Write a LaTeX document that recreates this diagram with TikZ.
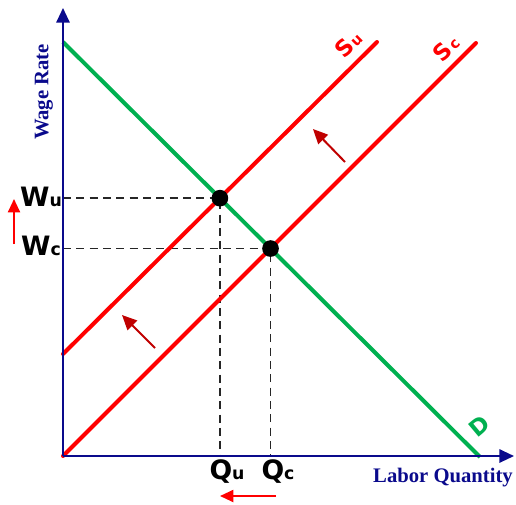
\documentclass[tikz,border=0pt]{standalone}
\usepackage{fontspec}
\newfontfamily\serifbold{Liberation Serif}[BoldFont={Liberation Serif Bold}]
\newfontfamily\heavysans{DejaVu Sans}
\usetikzlibrary{arrows.meta}
\definecolor{navyax}{HTML}{0A0A8C}
\definecolor{dgreen}{HTML}{00B050}
\definecolor{bred}{HTML}{FF0000}
\definecolor{dred}{HTML}{C00000}
\begin{document}
\begin{tikzpicture}[x=0.75pt,y=-0.75pt,
  axisline/.style={draw=navyax, line width=1.5pt, -{Triangle[length=11pt,width=10pt]}},
  curveline/.style={line width=3pt, line cap=round},
  dashline/.style={draw=black!85, line width=1.3pt, dash pattern=on 6pt off 4pt},
  dotnode/.style={circle, fill=black, inner sep=0pt, minimum size=12.5pt},
  shiftarrow/.style={draw=dred, line width=1.5pt, -{Triangle[length=11pt,width=10pt]}},
  redarrow/.style={draw=bred, line width=1.5pt, -{Triangle[length=10pt,width=9pt]}},
  axlabel/.style={text=navyax, font=\serifbold\bfseries\fontsize{15.5}{17}\selectfont},
  wqlabel/.style={font=\heavysans\bfseries\fontsize{20}{22}\selectfont, inner sep=0pt},
  slabel/.style={text=bred, font=\heavysans\bfseries\fontsize{17}{19}\selectfont, inner sep=0pt, rotate=45},
]
\useasboundingbox (0,0) rectangle (516,504);
% axes
\coordinate (O) at (63,456);
\coordinate (ytop) at (63,8);
\coordinate (xend) at (514,456);
% curves
\coordinate (D1) at (63,42);
\coordinate (D2) at (480,457);
\coordinate (Su1) at (63,354);
\coordinate (Su2) at (377,42);
\coordinate (Sc1) at (63,456);
\coordinate (Sc2) at (476,43);
\coordinate (Pu) at (intersection of D1--D2 and Su1--Su2);
\coordinate (Pc) at (intersection of D1--D2 and Sc1--Sc2);
% dashed guides
\draw[dashline] (Pu -| O) -- (Pu) -- (Pu |- O);
\draw[dashline] (Pc -| O) -- (Pc) -- (Pc |- O);
% supply and demand
\draw[curveline, draw=bred] (Su1) -- (Su2);
\draw[curveline, draw=bred] (Sc1) -- (Sc2);
\draw[curveline, draw=dgreen, line cap=butt] (D1) -- (D2);
\draw[axisline] (O) -- (ytop);
\draw[axisline] (O) -- (xend);
% equilibrium dots
\node[dotnode] (du) at (Pu) {};
\node[dotnode] (dc) at (Pc) {};
% shift arrows
\coordinate (a1s) at (345,162);
\coordinate (a1e) at (313,129);
\draw[shiftarrow] (a1s) -- (a1e);
\coordinate (a2s) at (155,348);
\coordinate (a2e) at (122,315);
\draw[shiftarrow] (a2s) -- (a2e);
\coordinate (a3s) at (14,244);
\coordinate (a3e) at (14,199);
\draw[redarrow] (a3s) -- (a3e);
\coordinate (a4s) at (276,496);
\coordinate (a4e) at (220,496);
\draw[redarrow] (a4s) -- (a4e);
% labels
\node[axlabel, rotate=90] (wr) at (44,92) {Wage Rate};
\node[axlabel] (lq) at (443,478) {Labor Quantity};
\node[wqlabel] (wu) at (41,197) {W{\fontsize{13}{14}\selectfont u}};
\node[wqlabel] (wc) at (41,246) {W{\fontsize{13}{14}\selectfont c}};
\node[wqlabel] (qu) at (227,472) {Q{\fontsize{13}{14}\selectfont u}};
\node[wqlabel] (qc) at (278,472) {Q{\fontsize{13}{14}\selectfont c}};
\node[slabel] (su) at (348,44) {S\kern0.8pt{\fontsize{11}{12}\selectfont u}};
\node[slabel] (sc) at (446,48) {S\kern0.8pt{\fontsize{11}{12}\selectfont c}};
\node[slabel, text=dgreen, rotate=-5] (dl) at (479,426) {D};
\end{tikzpicture}
\end{document}
